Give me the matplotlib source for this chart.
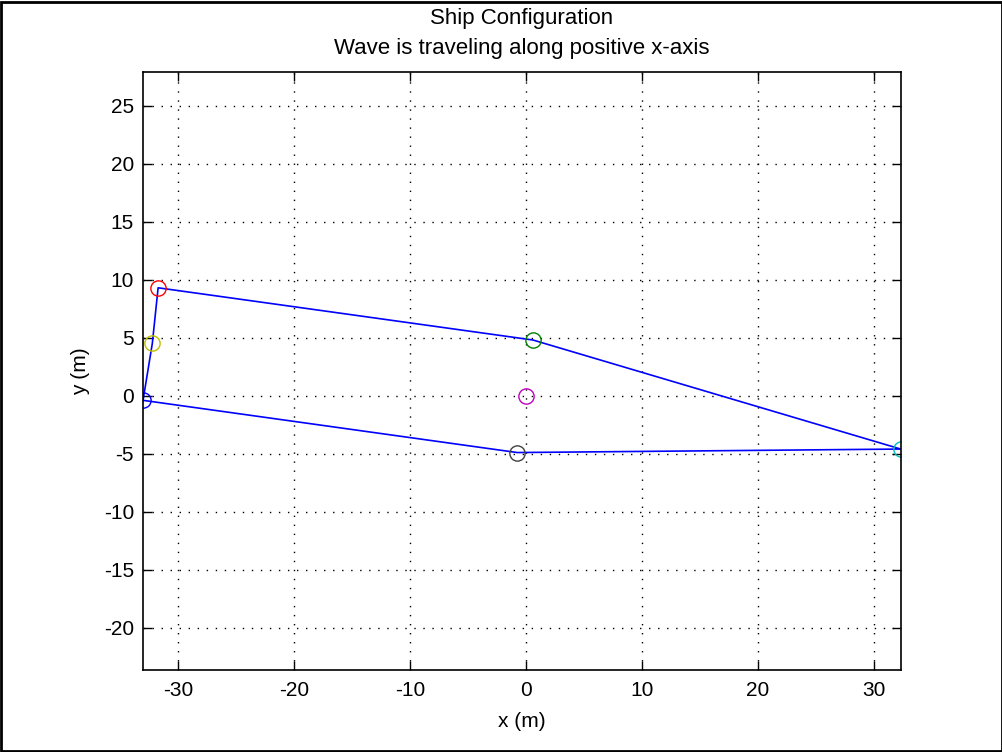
import matplotlib
matplotlib.use("Agg")
import matplotlib.pyplot as plt
from matplotlib.patches import Rectangle

# Hull outline (polygon order)
hull_x = [-33.0, -32.2, -31.7, 0.6, 32.3, -0.75, -33.0]
hull_y = [-0.4, 4.5, 9.3, 4.8, -4.6, -4.9, -0.4]

# Marked points
pt_names = ["blue", "yellow", "red", "green", "cyan", "black", "magenta"]
pt_x = [-33.0, -32.2, -31.7, 0.6, 32.3, -0.75, 0.0]
pt_y = [-0.4, 4.5, 9.3, 4.8, -4.6, -4.9, 0.0]
pt_colors = ["#0000ff", "#bfbf00", "#ff0000", "#008000", "#00bfbf", "#404040", "#bf00bf"]

xticks = [-30, -20, -10, 0, 10, 20, 30]
yticks = [-20, -15, -10, -5, 0, 5, 10, 15, 20, 25]

plt.rcParams['font.family'] = ['Liberation Sans', 'DejaVu Sans']
plt.rcParams['axes.unicode_minus'] = False

FS = 15

fig = plt.figure(figsize=(10.03, 7.52), dpi=100)
fig.patches.append(Rectangle((0.001, 0.001), 0.998, 0.997, transform=fig.transFigure,
                             fill=False, edgecolor='black', linewidth=2))
ax = fig.add_axes([0.1426, 1 - 669.5 / 752, (900.7 - 143) / 1003, (669.5 - 72) / 752])

ax.plot(hull_x, hull_y, color='#0000ff', linewidth=1.2)
for x, y, c in zip(pt_x, pt_y, pt_colors):
    ax.plot([x], [y], marker='o', markersize=11, markerfacecolor='none',
            markeredgecolor=c, markeredgewidth=1.0, linestyle='none')

ax.set_xlim(-33.0, 32.3)
ax.set_ylim(-23.6, 27.9)
ax.set_xticks(xticks)
ax.set_yticks(yticks)
ax.grid(True, linestyle=(0, (1, 5.5)), color='black', linewidth=1.0)
ax.tick_params(direction='in', length=6.5, width=1, top=True, right=True,
               labelsize=FS)
ax.tick_params(axis='x', pad=8)
ax.tick_params(axis='y', pad=6.5)
for s in ax.spines.values():
    s.set_linewidth(1.2)
ax.set_xlabel('x (m)', fontsize=FS, labelpad=9)
ax.set_ylabel('y (m)', fontsize=FS, labelpad=10)
ax.set_title('Ship Configuration\nWave is traveling along positive x-axis',
             fontsize=16, pad=13, linespacing=1.55)

fig.savefig('out.png', dpi=100)
